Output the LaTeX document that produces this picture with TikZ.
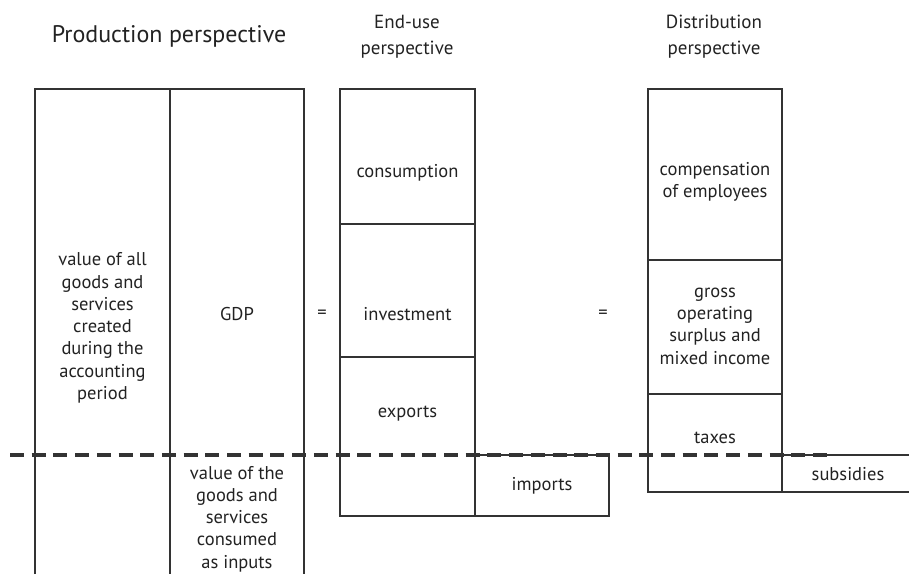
\documentclass[tikz,border=0pt]{standalone}
\usepackage{fontspec}
\setmainfont{PT Sans}
\definecolor{ink}{HTML}{222222}
\definecolor{rule}{HTML}{333333}
\begin{document}
\begin{tikzpicture}[x=1pt,y=-1pt,
  box/.style={draw=rule,line width=1.3pt},
  lbl/.style={text=ink,font=\fontsize{18.5}{22.3}\selectfont,align=center,inner sep=0pt},
  head/.style={text=ink,font=\fontsize{19}{26}\selectfont,align=center,inner sep=0pt},
  cut/.style={draw=rule,line width=3.4pt,dash pattern=on 14pt off 7.7pt}]
\useasboundingbox (0,0) rectangle (909,574);
% production
\draw[box] (35,574) -- (35,89) -- (304,89) -- (304,574);
\draw[box] (170,89) -- (170,574);
% end-use
\draw[box] (340,89) rectangle (475,516);
\draw[box] (340,224) -- (475,224);
\draw[box] (340,357) -- (475,357);
\draw[box] (475,455) rectangle (609,516);
% distribution
\draw[box] (648,89) rectangle (782,492);
\draw[box] (648,260) -- (782,260);
\draw[box] (648,394) -- (782,394);
\draw[box] (782,455) -- (910,455);
\draw[box] (782,492) -- (910,492);
% dashed line
\coordinate (dl) at (10,455);
\coordinate (dr) at (832,455);
\draw[cut] (dl) -- (dr);
% headings
\node[head,font=\fontsize{24}{26}\selectfont] (hp) at (169,36) {Production perspective};
\node[head] (he) at (407,37) {End-use\\perspective};
\node[head] (hd) at (714,37) {Distribution\\perspective};
% labels
\node[lbl] (va) at (102.5,328) {value of all\\goods and\\services\\created\\during the\\accounting\\period};
\node[lbl] (gdp) at (237,314) {GDP};
\node[lbl] (vi) at (237,519) {value of the\\goods and\\services\\consumed\\as inputs};
\node[lbl] (eq1) at (322,314) {=};
\node[lbl] (eq2) at (603,314) {=};
\node[lbl] (con) at (407.5,173) {consumption};
\node[lbl] (inv) at (407.5,314) {investment};
\node[lbl] (exp) at (407.5,414) {exports};
\node[lbl] (imp) at (542,486) {imports};
\node[lbl] (com) at (715,182) {compensation\\of employees};
\node[lbl] (gos) at (715,326) {gross\\operating\\surplus and\\mixed income};
\node[lbl] (tax) at (715,438) {taxes};
\node[lbl] (sub) at (848,474) {subsidies};
\end{tikzpicture}
\end{document}
